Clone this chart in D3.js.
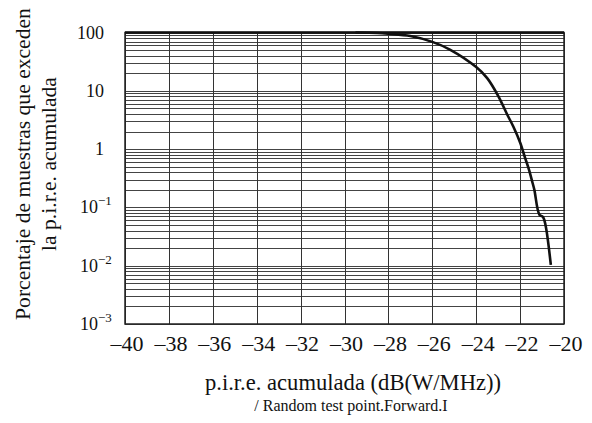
<!DOCTYPE html>
<html>
<head>
<meta charset="utf-8">
<script src="https://cdn.jsdelivr.net/npm/d3@7"></script>
<style>
body { margin: 0; background: #fff; }
text { font-family: "Liberation Serif", "DejaVu Serif", serif; fill: #111; }
</style>
</head>
<body>
<script>
// curve: p.i.r.e. (dB(W/MHz)) vs % of samples exceeding
var pire = [-29.5, -28.5, -28, -27, -26, -25.2, -24, -23.5, -23, -22.6, -22.3, -22, -21.78, -21.6, -21.44, -21.35, -21.12, -20.95, -20.83, -20.6];
var pct  = [100, 98, 95, 87, 69, 51, 25.5, 16.5, 8.2, 4.0, 2.4, 1.3, 0.72, 0.45, 0.27, 0.2, 0.075, 0.068, 0.047, 0.0103];

var xTicks = [-40, -38, -36, -34, -32, -30, -28, -26, -24, -22, -20];
var yDecades = [0.001, 0.01, 0.1, 1, 10, 100];
var yBase = ["10", "10", "10", "1", "10", "100"];
var yExp = ["\u22123", "\u22122", "\u22121", "", "", ""];

var width = 592, height = 423;
var svg = d3.select('body').append('svg')
  .attr('width', width)
  .attr('height', height);

var x = d3.scaleLinear().domain([-40, -20]).range([125, 564]);
var y = d3.scaleLog().domain([0.001, 100]).range([324, 32.5]);

// horizontal grid: every 1..9 x 10^k
var minor = [];
for (var k = -3; k < 2; k++) {
  for (var m = 1; m < 10; m++) minor.push(m * Math.pow(10, k));
}
minor.push(100);

svg.append('g').selectAll('line')
  .data(minor)
  .enter().append('line')
  .attr('x1', x(-40)).attr('x2', x(-20))
  .attr('y1', function(d) { return Math.round(y(d)) + 0.5; })
  .attr('y2', function(d) { return Math.round(y(d)) + 0.5; })
  .attr('stroke', '#444')
  .attr('stroke-width', 1);

// vertical grid
svg.append('g').selectAll('line')
  .data(xTicks)
  .enter().append('line')
  .attr('x1', function(d) { return Math.round(x(d)) + 0.5; })
  .attr('x2', function(d) { return Math.round(x(d)) + 0.5; })
  .attr('y1', y(100)).attr('y2', y(0.001))
  .attr('stroke', '#333')
  .attr('stroke-width', 1);

// frame
svg.append('rect')
  .attr('x', x(-40)).attr('y', y(100))
  .attr('width', x(-20) - x(-40)).attr('height', y(0.001) - y(100))
  .attr('fill', 'none')
  .attr('stroke', '#222')
  .attr('stroke-width', 1.5);
svg.append('line')
  .attr('x1', x(-40)).attr('x2', x(-20))
  .attr('y1', y(100)).attr('y2', y(100))
  .attr('stroke', '#111').attr('stroke-width', 2.5);

// curve
var pts = pire.map(function(v, i) { return [v, pct[i]]; });
svg.append('path')
  .attr('d', d3.line()
    .x(function(d) { return x(d[0]); })
    .y(function(d) { return y(d[1]); })
    .curve(d3.curveCatmullRom)(pts))
  .attr('fill', 'none')
  .attr('stroke', '#111')
  .attr('stroke-width', 2.6);

// x tick labels
svg.append('g').selectAll('text')
  .data(xTicks)
  .enter().append('text')
  .attr('x', function(d) { return x(d) + 2; })
  .attr('y', 351)
  .attr('text-anchor', 'middle')
  .attr('font-size', 22)
  .text(function(d) { return '\u2013' + Math.abs(d); });

// y tick labels
var yl = svg.append('g').selectAll('text')
  .data(yDecades)
  .enter().append('text')
  .attr('y', function(d) { return y(d) + 6; })
  .attr('font-size', 18)
  .attr('x', function(d, i) { return yExp[i] ? 80 : 104 - yBase[i].length * 9; });
yl.append('tspan').text(function(d, i) { return yBase[i]; });
yl.append('tspan')
  .attr('dy', -8)
  .attr('font-size', 13)
  .text(function(d, i) { return yExp[i]; });

// axis titles
svg.append('text')
  .attr('transform', 'translate(30,164) rotate(-90)')
  .attr('text-anchor', 'middle')
  .attr('font-size', 21.6)
  .text('Porcentaje de muestras que exceden');
svg.append('text')
  .attr('transform', 'translate(56,164) rotate(-90)')
  .attr('text-anchor', 'middle')
  .attr('font-size', 21.6)
  .text('la p.i.r.e. acumulada');

svg.append('text')
  .attr('x', 353).attr('y', 390)
  .attr('text-anchor', 'middle')
  .attr('font-size', 22.6)
  .text('p.i.r.e. acumulada (dB(W/MHz))');
svg.append('text')
  .attr('x', 351).attr('y', 411)
  .attr('text-anchor', 'middle')
  .attr('font-size', 16)
  .text('/ Random test point.Forward.I');
</script>
</body>
</html>
